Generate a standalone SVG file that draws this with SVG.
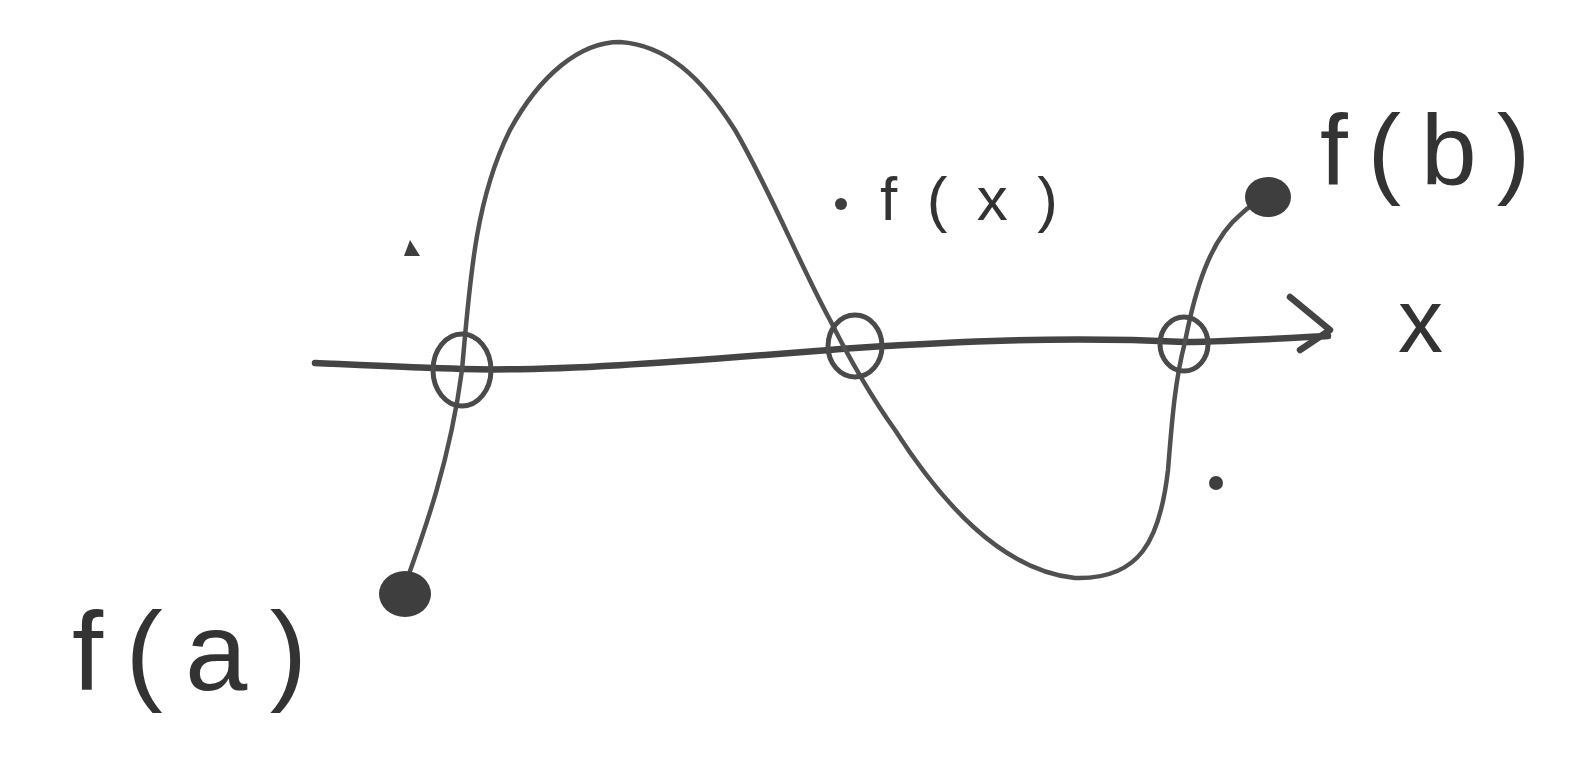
<svg xmlns="http://www.w3.org/2000/svg" width="1570" height="763" viewBox="0 0 1570 763">
<defs>
<style>
.ink{fill:none;stroke:#444;stroke-width:6.5;stroke-linecap:round;stroke-linejoin:round}
.thin{fill:none;stroke:#505050;stroke-width:4.5;stroke-linecap:round}
.ring{fill:none;stroke:#4a4a4a;stroke-width:5}
.dot{fill:#3e3e3e}
.lbl{font-family:"Liberation Sans",Arial,sans-serif;fill:#333}
</style>
</defs>
<rect width="1570" height="763" fill="#ffffff"/>
<g id="connectors">
<path class="ink" d="M315,363 C380,366 420,368 462,369 C560,372 700,360 855,348 C950,342 1060,336 1185,342 C1240,341 1290,338 1328,336"/>
<path class="ink" d="M1290,297 L1330,330 L1300,350"/>
<path class="thin" d="M405,585 C425,530 450,460 462,370 C470,280 475,200 510,130 C540,75 580,42 620,42 C665,45 700,75 735,130 C770,190 800,265 830,320 C850,360 870,395 895,430 C940,500 1000,570 1075,578 C1140,580 1160,540 1168,470 C1172,420 1175,380 1185,342 C1195,290 1210,240 1240,215 C1250,205 1260,200 1270,197"/>
</g>
<g id="root-a"><ellipse class="ring" cx="462" cy="370" rx="29" ry="36"/></g>
<g id="root-mid"><ellipse class="ring" cx="855" cy="346" rx="27" ry="31"/></g>
<g id="root-b"><ellipse class="ring" cx="1184" cy="344" rx="24" ry="27"/></g>
<g id="fa"><ellipse class="dot" cx="405" cy="594" rx="26" ry="23"/><text class="lbl" x="72" y="690" font-size="112" textLength="235" lengthAdjust="spacing">f(a)</text></g>
<g id="fb"><ellipse class="dot" cx="1268" cy="197" rx="23" ry="20"/><text class="lbl" x="1320" y="185" font-size="100" fill="#444" textLength="210" lengthAdjust="spacing">f(b)</text></g>
<g id="fx"><circle class="dot" cx="841" cy="204" r="6"/><text class="lbl" x="880" y="220" font-size="62" fill="#444" textLength="178" lengthAdjust="spacing">f(x)</text></g>
<g id="xlabel"><text class="lbl" x="1398" y="352" font-size="90" fill="#999">x</text></g>
<g id="marks">
<path class="dot" d="M404,256 L410,240 L420,256 Z"/>
<circle class="dot" cx="1216" cy="483" r="7"/>
</g>
</svg>
